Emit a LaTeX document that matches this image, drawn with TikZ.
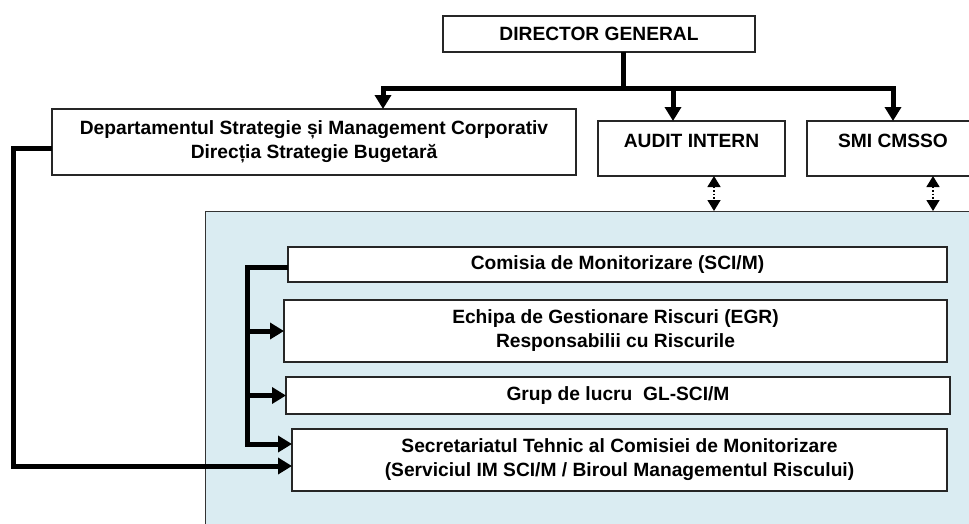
\documentclass[tikz,border=0pt]{standalone}
\usepackage{fontspec}
\setmainfont{Liberation Sans}
\usetikzlibrary{arrows.meta}
\definecolor{panelblue}{RGB}{218,236,242}
\begin{document}
\begin{tikzpicture}[x=1pt,y=-1pt,
  box/.style={draw=black!85, line width=1.3pt, fill=white, inner sep=0pt, outer sep=0pt,
    anchor=north west, align=center, font=\bfseries\fontsize{19.2}{24}\selectfont},
  thk/.style={line width=5pt, draw=black},
  tip/.style={-{Triangle[length=14pt,width=16pt]}},
  dots/.style={line width=1.5pt, dotted, {Triangle[length=11pt,width=13pt]}-{Triangle[length=11pt,width=13pt]}}]
\useasboundingbox (0,0) rectangle (969,523);
\clip (0,0) rectangle (969,523);
% panel
\node[draw=black!80, line width=1pt, fill=panelblue, inner sep=0pt, anchor=north west,
  minimum width=800pt, minimum height=330pt] (panel) at (205,211) {};
% top boxes
\node[box, minimum width=312pt, minimum height=36pt] (dg) at (443,16) {DIRECTOR GENERAL};
\node[box, minimum width=524pt, minimum height=66pt] (dept) at (52,109)
  {Departamentul Strategie și Management Corporativ\\Direcția Strategie Bugetară};
\node[box, minimum width=187pt, minimum height=55pt, text height=14pt, text depth=16pt] (audit) at (598,121) {AUDIT INTERN};
\node[box, minimum width=172pt, minimum height=55pt, text height=14pt, text depth=16pt] (smi) at (807,121) {SMI CMSSO};
% inner boxes
\node[box, minimum width=659pt, minimum height=35pt] (com) at (288,247) {Comisia de Monitorizare (SCI/M)};
\node[box, minimum width=663pt, minimum height=62pt] (egr) at (284,300)
  {Echipa de Gestionare Riscuri (EGR)\\Responsabilii cu Riscurile};
\node[box, minimum width=664pt, minimum height=37pt] (grup) at (286,377) {Grup de lucru~ GL-SCI/M};
\node[box, minimum width=655pt, minimum height=62pt] (sec) at (292,429)
  {Secretariatul Tehnic al Comisiei de Monitorizare\\(Serviciul IM SCI/M / Biroul Managementul Riscului)};
% coordinates
\coordinate (busL) at (383,88);
\coordinate (lc) at (13,466);
\coordinate (vb) at (247,444);
\coordinate (d1) at (714,0);
\coordinate (d2) at (933,0);
% top connectors
\draw[thk,tip] ([xshift=24pt]dg.south) |- (busL) -- (busL |- dept.north);
\draw[thk,tip] (busL) -| (smi.north);
\draw[thk,tip] ([xshift=-18.5pt]audit.north |- busL) -- ([xshift=-18.5pt]audit.north);
% dotted double arrows
\draw[dots] (audit.south -| d1) -- (panel.north -| d1);
\draw[dots] (smi.south -| d2) -- (panel.north -| d2);
% dept to secretariat
\draw[thk,tip] ([yshift=-6pt]dept.west) -| (lc) -- ([yshift=-6pt]sec.west);
% inner bracket
\draw[thk,tip] ([yshift=-3pt]com.west) -| (vb) -- (vb -| sec.west);
\draw[thk,tip] (vb |- egr.west) -- (egr.west);
\draw[thk,tip] (vb |- grup.west) -- (grup.west);
\end{tikzpicture}
\end{document}
